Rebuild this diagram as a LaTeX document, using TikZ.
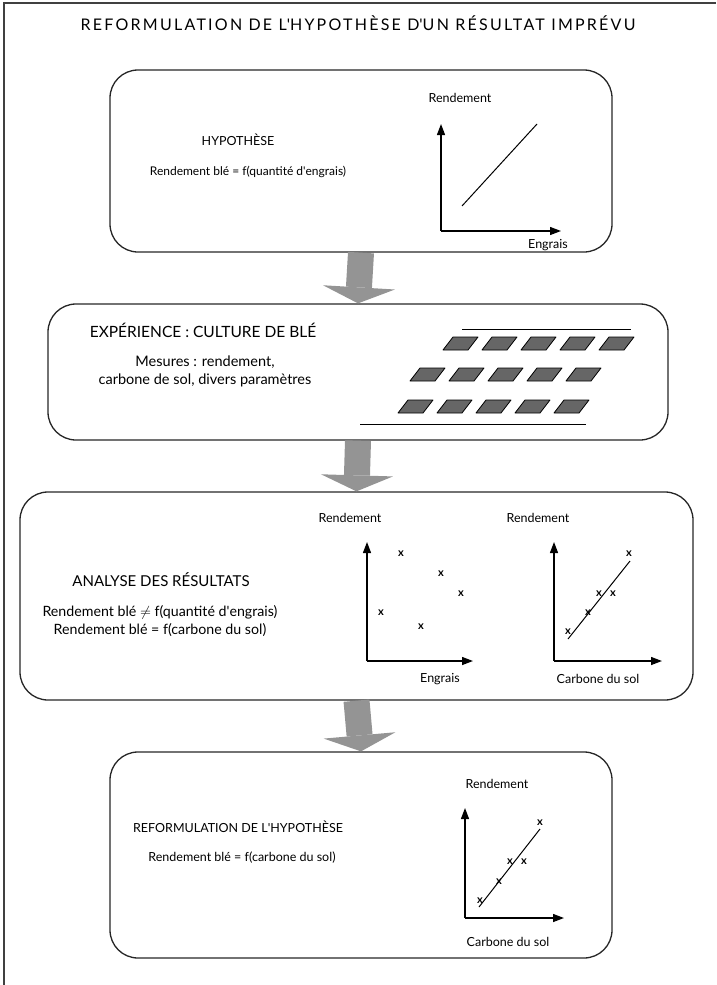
\documentclass[tikz,border=0pt]{standalone}
\usepackage{fontspec}
\setmainfont{Lato}
\newfontfamily\rftitle[LetterSpace=14]{Lato}
\usetikzlibrary{arrows.meta,calc}
\tikzset{
  rf/.style={x=1pt, y=-1pt, font=\fontsize{12}{14}\selectfont},
  rf frame/.style={draw=black!75, line width=1.1pt},
  rf box/.style={draw=black!85, line width=1.3pt, rounded corners=28pt, inner sep=0pt},
  rf down/.style={draw=black!42, line width=26pt,
                  -{Triangle[length=16pt, width=72pt, line width=0pt]}},
  rf head/.style={font=\fontsize{12.5}{15}\selectfont, inner sep=1pt},
  rf big/.style={font=\fontsize{15.5}{18}\selectfont, inner sep=1pt},
  rf txt/.style={align=center, inner sep=1pt},
  rf bigtxt/.style={rf txt, font=\fontsize{14.5}{18}\selectfont},
  rf lab/.style={font=\fontsize{12.5}{14}\selectfont, inner sep=1pt},
  rf axis/.style={line width=1.3pt, -{Triangle[length=11pt, width=8pt]}},
  rf trend/.style={line width=1pt},
  rf mark/.style={font=\bfseries\fontsize{11}{11}\selectfont, inner sep=0pt},
  rf plot/.style={draw=black, line width=0.8pt, fill=black!60, line join=round},
  rf row/.style={line width=1pt},
}
\begin{document}
\begin{tikzpicture}[rf]
\useasboundingbox (0,0) rectangle (716,985);
\draw[rf frame] (4,985) -- (4,3) -- (716,3);
\node[font=\rftitle\fontsize{16}{18}\selectfont] (title) at (358,23)
  {REFORMULATION DE L\textquotesingle HYPOTHÈSE D\textquotesingle UN RÉSULTAT IMPRÉVU};
% ---- hypothese ----
\node[rf box, minimum width=502pt, minimum height=182pt] (hyp) at (361,161) {};
\node[rf head] (hyph) at (238,140) {HYPOTHÈSE};
\node[rf txt] (hypf) at (248,172) {Rendement blé = f(quantité d\textquotesingle engrais)};
\coordinate (g1o) at (441,231);
\draw[rf axis] (g1o) -- ++(0,-107);
\draw[rf axis] (g1o) -- ++(120,0);
\draw[rf trend] (462,206) -- (537,124);
\node[rf lab] (g1y) at (460,98) {Rendement};
\node[rf lab] (g1x) at (548,245) {Engrais};
% ---- experience ----
\node[rf box, minimum width=620pt, minimum height=136pt] (exp) at (358,372) {};
\node[rf big] (exph) at (203,330) {EXPÉRIENCE : CULTURE DE BLÉ};
\node[rf bigtxt] (expf) at (205,371) {Mesures : rendement,\\carbone de sol, divers paramètres};
\draw[rf row] (462,329) -- (631,329);
\foreach \x in {443,482,521,560,599} {
  \draw[rf plot] (\x,350) -- ++(25,0) -- ++(10,-13) -- ++(-25,0) -- cycle; }
\foreach \x in {410,449,488,527,566} {
  \draw[rf plot] (\x,381) -- ++(25,0) -- ++(10,-13) -- ++(-25,0) -- cycle; }
\foreach \x in {398,437,476,515,554} {
  \draw[rf plot] (\x,413) -- ++(25,0) -- ++(10,-13) -- ++(-25,0) -- cycle; }
\draw[rf row] (360,424) -- (586,424);
\draw[rf down] (hyp.south) -- (exp.north);
% ---- analyse ----
\node[rf box, minimum width=673pt, minimum height=208pt] (ana) at (356.5,596) {};
\node[rf big, font=\fontsize{15}{18}\selectfont] (anah) at (161,580) {ANALYSE DES RÉSULTATS};
\node[rf bigtxt, font=\fontsize{14.2}{18}\selectfont] (anaf) at (160,621)
  {Rendement blé $\neq$ f(quantité d\textquotesingle engrais)\\Rendement blé = f(carbone du sol)};
\coordinate (g2o) at (367,661);
\draw[rf axis] (g2o) -- ++(0,-119);
\draw[rf axis] (g2o) -- ++(106,0);
\node[rf lab] (g2y) at (350,518) {Rendement};
\node[rf lab] (g2x) at (440,679) {Engrais};
\node[rf mark] (m21) at (401,554) {x};
\node[rf mark] (m22) at (441,574) {x};
\node[rf mark] (m23) at (461,594) {x};
\node[rf mark] (m24) at (381,613) {x};
\node[rf mark] (m25) at (421,627) {x};
\coordinate (g3o) at (554,661);
\draw[rf axis] (g3o) -- ++(0,-119);
\draw[rf axis] (g3o) -- ++(108,0);
\draw[rf trend] (568,639) -- (630,561);
\node[rf lab] (g3y) at (538,518) {Rendement};
\node[rf lab] (g3x) at (598,679) {Carbone du sol};
\node[rf mark] (m31) at (568,632) {x};
\node[rf mark] (m32) at (588,613) {x};
\node[rf mark] (m33) at (599,594) {x};
\node[rf mark] (m34) at (613,594) {x};
\node[rf mark] (m35) at (629,554) {x};
\draw[rf down] (exp.south) -- (ana.north);
% ---- reformulation ----
\node[rf box, minimum width=502pt, minimum height=206pt] (ref) at (361,855) {};
\node[rf head] (refh) at (238,827) {REFORMULATION DE L\textquotesingle HYPOTHÈSE};
\node[rf txt, font=\fontsize{12.5}{15}\selectfont] (reff) at (242,858) {Rendement blé = f(carbone du sol)};
\coordinate (g4o) at (465,918);
\draw[rf axis] (g4o) -- ++(0,-110);
\draw[rf axis] (g4o) -- ++(99,0);
\draw[rf trend] (479,907) -- (540,829);
\node[rf lab] (g4y) at (497,784) {Rendement};
\node[rf lab] (g4x) at (508,942) {Carbone du sol};
\node[rf mark] (m41) at (480,901) {x};
\node[rf mark] (m42) at (499,882) {x};
\node[rf mark] (m43) at (510,862) {x};
\node[rf mark] (m44) at (524,862) {x};
\node[rf mark] (m45) at (540,823) {x};
\draw[rf down] (ana.south) -- (ref.north);
\end{tikzpicture}
\end{document}
